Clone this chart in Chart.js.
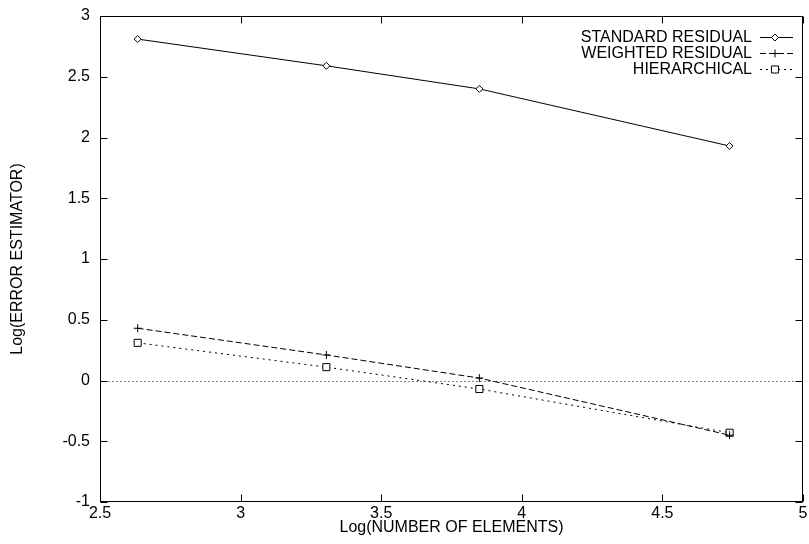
<!DOCTYPE html>
<html>
<head>
<meta charset="utf-8">
<script src="https://cdn.jsdelivr.net/npm/chart.js@4.4.1/dist/chart.umd.min.js"></script>
<style>
html, body { margin: 0; padding: 0; background: #fff; overflow: hidden; }
#wrap { width: 809px; height: 544px; }
</style>
</head>
<body>
<div id="wrap"><canvas id="chart"></canvas></div>
<script>
// values
var logElements = [2.634, 3.305, 3.849, 4.739];
var standardResidual = [2.81, 2.59, 2.40, 1.93];
var weightedResidual = [0.43, 0.21, 0.02, -0.45];
var hierarchical = [0.31, 0.11, -0.07, -0.43];
var seriesNames = ['STANDARD RESIDUAL', 'WEIGHTED RESIDUAL', 'HIERARCHICAL'];
var xTicks = [2.5, 3, 3.5, 4, 4.5, 5];
var yTicks = [-1, -0.5, 0, 0.5, 1, 1.5, 2, 2.5, 3];

var font = { family: '"Liberation Sans", Arial, sans-serif', size: 16 };

function toPoints(ys) {
	return logElements.map(function(x, i) { return { x: x, y: ys[i] }; });
}

function plainLabel(value) {
	return String(value);
}

// gnuplot style frame: box, inward ticks on all sides, dotted zero line
var frame = {
	id: 'frame',
	beforeDatasetsDraw: function(chart) {
		var ctx = chart.ctx, a = chart.chartArea;
		var xs = chart.scales.x, ys = chart.scales.y;
		var L = Math.round(a.left) + 0.5, R = Math.round(a.right) - 0.5;
		var T = Math.round(a.top) + 0.5, B = Math.round(a.bottom) - 0.5;
		ctx.save();
		ctx.strokeStyle = '#000';
		ctx.lineWidth = 1;

		var zy = Math.round(ys.getPixelForValue(0)) + 0.5;
		ctx.setLineDash([1, 3]);
		ctx.beginPath();
		ctx.moveTo(L, zy);
		ctx.lineTo(R, zy);
		ctx.stroke();
		ctx.setLineDash([]);

		ctx.strokeRect(L, T, R - L, B - T);
		ctx.beginPath();
		xTicks.forEach(function(v) {
			var px = Math.round(xs.getPixelForValue(v)) + 0.5;
			ctx.moveTo(px, B); ctx.lineTo(px, B - 7);
			ctx.moveTo(px, T); ctx.lineTo(px, T + 7);
		});
		yTicks.forEach(function(v) {
			var py = Math.round(ys.getPixelForValue(v)) + 0.5;
			ctx.moveTo(L, py); ctx.lineTo(L + 7, py);
			ctx.moveTo(R, py); ctx.lineTo(R - 7, py);
		});
		ctx.stroke();
		ctx.restore();
	}
};

// legend in the upper right, text right aligned with the line sample after it
var keyBox = {
	id: 'keyBox',
	afterDraw: function(chart) {
		var ctx = chart.ctx;
		ctx.save();
		ctx.font = font.size + 'px ' + font.family;
		ctx.textAlign = 'right';
		ctx.textBaseline = 'middle';
		chart.data.datasets.forEach(function(ds, i) {
			var y = 37 + i * 16;
			ctx.fillStyle = '#000';
			ctx.fillText(ds.label, 752, y + 1);
			ctx.strokeStyle = ds.borderColor;
			ctx.lineWidth = 1;
			ctx.setLineDash(ds.borderDash || []);
			ctx.beginPath();
			ctx.moveTo(760, y + 0.5);
			ctx.lineTo(793, y + 0.5);
			ctx.stroke();
			ctx.setLineDash([]);
			ctx.fillStyle = '#fff';
			Chart.helpers.drawPoint(ctx, {
				pointStyle: ds.pointStyle,
				radius: ds.pointRadius,
				borderWidth: 1
			}, 775, y + 0.5);
		});
		ctx.restore();
	}
};

function dataset(label, values, style, radius, dash) {
	return {
		label: label,
		data: toPoints(values),
		borderColor: '#000',
		borderWidth: 1,
		borderDash: dash,
		pointStyle: style,
		pointRadius: radius,
		pointBorderColor: '#000',
		pointBackgroundColor: '#fff',
		pointBorderWidth: 1,
		tension: 0,
		fill: false
	};
}

new Chart(document.getElementById('chart').getContext('2d'), {
	type: 'line',
	data: {
		datasets: [
			dataset(seriesNames[0], standardResidual, 'rectRot', 3.5, []),
			dataset(seriesNames[1], weightedResidual, 'cross', 4, [6, 3]),
			dataset(seriesNames[2], hierarchical, 'rect', 5, [2, 4])
		]
	},
	options: {
		responsive: true,
		maintainAspectRatio: false,
		animation: false,
		events: [],
		layout: { padding: { left: 0, right: 1, top: 16, bottom: 0 } },
		plugins: {
			legend: { display: false },
			tooltip: { enabled: false }
		},
		scales: {
			x: {
				type: 'linear',
				min: 2.5,
				max: 5,
				afterBuildTicks: function(s) { s.ticks = xTicks.map(function(v) { return { value: v }; }); },
				afterFit: function(s) { s.paddingLeft = 0; s.paddingRight = 0; s.height = 42; },
				grid: { display: false, drawTicks: false },
				border: { display: false },
				ticks: { color: '#000', font: font, padding: 2, maxRotation: 0, autoSkip: false, callback: plainLabel },
				title: { display: true, text: 'Log(NUMBER OF ELEMENTS)', color: '#000', font: font, padding: { top: 0, bottom: 7 } }
			},
			y: {
				type: 'linear',
				min: -1,
				max: 3,
				afterBuildTicks: function(s) { s.ticks = yTicks.map(function(v) { return { value: v }; }); },
				afterFit: function(s) { s.paddingTop = 0; s.paddingBottom = 0; s.width = 100; },
				grid: { display: false, drawTicks: false },
				border: { display: false },
				ticks: { color: '#000', font: font, padding: 10, autoSkip: false, callback: plainLabel },
				title: { display: true, text: 'Log(ERROR ESTIMATOR)', color: '#000', font: font, padding: { top: 8, bottom: 0 } }
			}
		}
	},
	plugins: [frame, keyBox]
});
</script>
</body>
</html>
